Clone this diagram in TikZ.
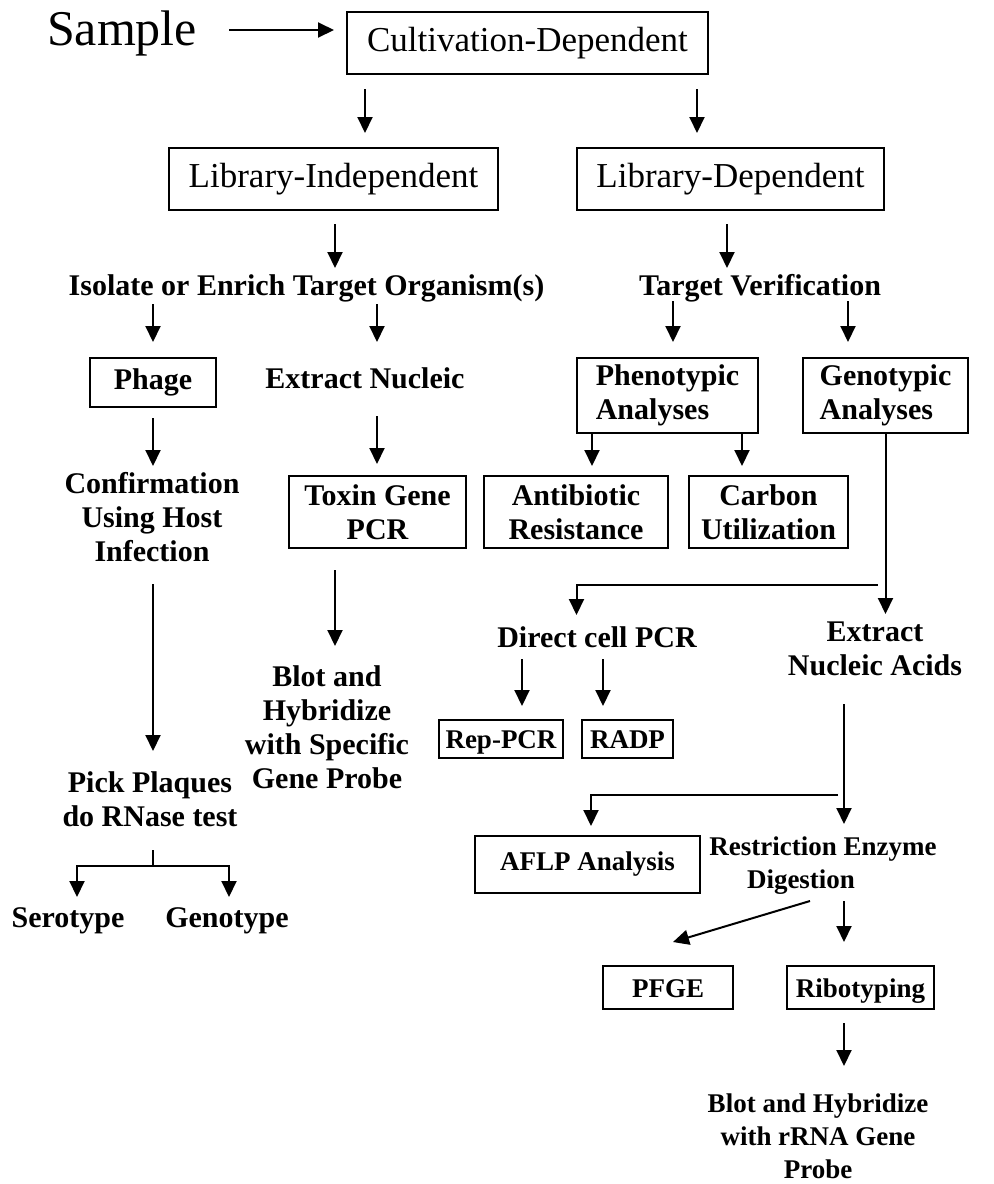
\documentclass[tikz,border=0pt]{standalone}
\usepackage{fontspec}
\setmainfont{Liberation Serif}
\usetikzlibrary{arrows.meta}
\begin{document}
\begin{tikzpicture}[x=0.5pt,y=-0.5pt,
  box/.style={draw, line width=1pt, inner sep=0pt, align=center},
  big/.style={font=\fontsize{17.5}{20}\selectfont},
  lbl/.style={font=\bfseries\fontsize{15}{17}\selectfont, align=center, inner sep=0pt},
  sml/.style={font=\bfseries\fontsize{13.5}{16.5}\selectfont, align=center, inner sep=0pt},
  bbox/.style={box, font=\bfseries\fontsize{15}{17}\selectfont},
  sbox/.style={box, font=\bfseries\fontsize{13.5}{16.5}\selectfont},
  nodepth/.style={text depth=0pt, text height=9.5pt},
  arr/.style={line width=1pt, -{Triangle[length=8pt,width=7.5pt]}},
  ln/.style={line width=1pt}]
\useasboundingbox[fill=white] (0,0) rectangle (994,1184);

% nodes
\node[font=\fontsize{25}{28}\selectfont, anchor=base, inner sep=0pt] (sample) at (122,45) {Sample};
\node[box,big,minimum width=180.5pt,minimum height=31pt] (cd) at (527.5,43) {Cultivation-Dependent};
\node[box,big,minimum width=164.5pt,minimum height=31pt] (li) at (333.5,179) {Library-Independent};
\node[box,big,minimum width=153.5pt,minimum height=31pt] (ld) at (730.5,179) {Library-Dependent};
\node[lbl,anchor=base] (iso) at (306.5,295) {Isolate or Enrich Target Organism(s)};
\node[lbl,anchor=base] (tv) at (760,295) {Target Verification};
\node[bbox,minimum width=63pt,minimum height=24.5pt] (phage) at (153,382.5) {Phage};
\node[lbl,anchor=base] (ext) at (365,388) {Extract Nucleic};
\node[bbox,minimum width=90.5pt,minimum height=37.5pt,align=left] (pheno) at (667.5,395.5) {Phenotypic\\Analyses};
\node[bbox,minimum width=82.5pt,minimum height=37.5pt,align=left] (geno) at (885.5,395.5) {Genotypic\\Analyses};
\node[lbl] (conf) at (152,517) {Confirmation\\Using Host\\Infection};
\node[bbox,minimum width=88.5pt,minimum height=36pt] (toxin) at (377.5,512) {Toxin Gene\\PCR};
\node[bbox,minimum width=92pt,minimum height=36pt] (anti) at (576,512) {Antibiotic\\Resistance};
\node[bbox,minimum width=79.5pt,minimum height=36pt] (carbon) at (768.5,512) {Carbon\\Utilization};
\node[lbl,anchor=base] (dcp) at (597,647) {Direct cell PCR};
\node[lbl] (ena) at (875,649) {Extract\\Nucleic Acids};
\node[sbox,nodepth,minimum width=62pt,minimum height=19pt] (rep) at (501,739) {Rep-PCR};
\node[sbox,nodepth,minimum width=45.5pt,minimum height=19pt] (radp) at (627.5,739) {RADP};
\node[lbl] (blot1) at (327,727.5) {Blot and\\Hybridize\\with Specific\\Gene Probe};
\node[lbl] (pick) at (150,799) {Pick Plaques\\do RNase test};
\node[lbl,anchor=base] (sero) at (68,927) {Serotype};
\node[lbl,anchor=base] (genot) at (227,927) {Genotype};
\node[sbox,minimum width=112.5pt,minimum height=28.5pt] (aflp) at (587.5,864.5) {AFLP Analysis};
\node[sml] (red) at (823,866) {Restriction Enzyme\\Digestion\hspace*{22pt}};
\node[sbox,nodepth,minimum width=65pt,minimum height=21.5pt] (pfge) at (668,987.5) {PFGE};
\node[sbox,nodepth,minimum width=73.5pt,minimum height=21.5pt] (ribo) at (860.5,987.5) {Ribotyping};
\node[sml] (blot2) at (818,1136) {Blot and Hybridize\\with rRNA Gene\\Probe};

% connectors
\draw[arr] (cd.west |- 0,30) ++(-117,0) -- ++(105,0);
\draw[arr] (cd.south -| 365,0) ++(0,14) -- ++(0,44);
\draw[arr] (cd.south -| 697,0) ++(0,14) -- ++(0,44);
\draw[arr] (li.south -| 335,0) ++(0,13) -- ++(0,44);
\draw[arr] (ld.south -| 727,0) ++(0,13) -- ++(0,44);
\draw[arr] (phage.north) ++(0,-53) -- ++(0,38);
\draw[arr] (phage.north -| 377,0) ++(0,-53) -- ++(0,38);
\draw[arr] (pheno.north -| 673,0) ++(0,-56) -- ++(0,41);
\draw[arr] (geno.north -| 848,0) ++(0,-56) -- ++(0,41);
\draw[arr] (phage.south) ++(0,10) -- ++(0,48);
\draw[arr] (toxin.north -| 377,0) ++(0,-59) -- ++(0,48);
\draw[arr] (pheno.south -| 592,0) -- ++(0,32);
\draw[arr] (pheno.south -| 742,0) -- ++(0,32);
\draw[arr] (toxin.south -| 335,0) ++(0,21) -- ++(0,76);
\draw[arr] (phage.south) ++(0,176) -- ++(0,167);
\draw[arr] (geno.south) -- ++(0,180);
\draw[arr] (geno.south) ++(-8,151) -- ++(-301,0) -- ++(0,30);
\draw[arr] (rep.north -| 522,0) ++(0,-60) -- ++(0,47);
\draw[arr] (radp.north -| 603,0) ++(0,-60) -- ++(0,47);
\draw[arr] (aflp.north -| 844,0) ++(0,-131) -- ++(0,120);
\draw[arr] (aflp.north -| 838,0) ++(0,-40) -- ++(-247,0) -- ++(0,31);
\draw[arr] (pfge.north) ++(142,-64) -- ++(-137,41);
\draw[arr] (ribo.north -| 844,0) ++(0,-64) -- ++(0,41);
\draw[arr] (ribo.south -| 844,0) ++(0,13) -- ++(0,43);
\coordinate (fork) at (153,866);
\draw[ln] (fork) -- ++(0,-16);
\draw[arr] (fork) -- ++(-76,0) -- ++(0,31);
\draw[arr] (fork) -- ++(76,0) -- ++(0,31);
\end{tikzpicture}
\end{document}
